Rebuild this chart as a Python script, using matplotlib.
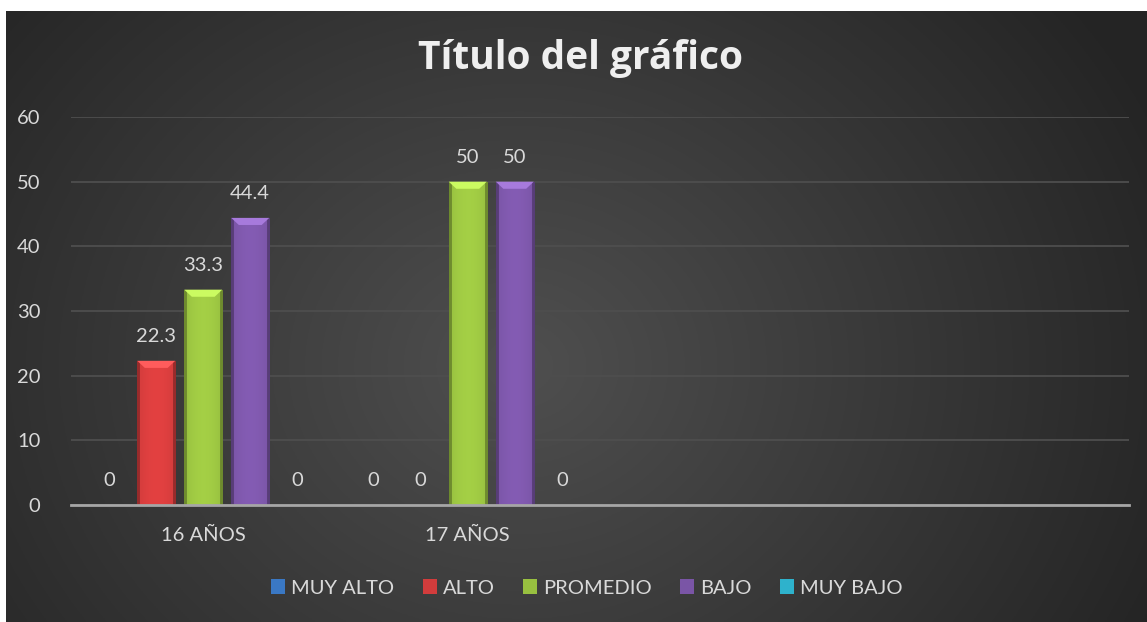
import numpy as np
import matplotlib
matplotlib.use("Agg")
import matplotlib.pyplot as plt
from matplotlib.patches import Patch, Polygon
import matplotlib.colors as mcolors

plt.rcParams['font.family'] = ['Lato', 'DejaVu Sans']

# datos
categorias = ["16 AÑOS", "17 AÑOS"]
n_slots = 4  # el eje tiene 4 categorias, dos vacias
series = ["MUY ALTO", "ALTO", "PROMEDIO", "BAJO", "MUY BAJO"]
muy_alto = [0, 0]
alto = [22.3, 0]
promedio = [33.3, 50]
bajo = [44.4, 50]
muy_bajo = [0, 0]
valores = [muy_alto, alto, promedio, bajo, muy_bajo]
colores = ["#3a78c4", "#d23c3c", "#98c040", "#7a55a6", "#2eb2cc"]
yticks = [0, 10, 20, 30, 40, 50, 60]

W, H = 1147, 622
fig = plt.figure(figsize=(W / 100, H / 100), dpi=100)
fig.patch.set_facecolor("white")

# fondo oscuro con degradado
bg = fig.add_axes([6 / W, 0, 1 - 6 / W, 1 - 11 / H])
bg.set_axis_off()
yy, xx = np.mgrid[0:1:300j, 0:1:600j]
d = np.sqrt(((xx - 0.45) * 1.6) ** 2 + ((yy - 0.42) * 1.0) ** 2)
g = np.clip(0.31 - 0.17 * d, 0.145, 0.31)
bg.imshow(np.dstack([g, g, g]), extent=[0, 1, 0, 1], aspect="auto", origin="lower")
bg.set_xlim(0, 1)
bg.set_ylim(0, 1)

ax = fig.add_axes([71 / W, 1 - 505 / H, (1129 - 71) / W, (505 - 117) / H])
ax.patch.set_alpha(0)
ax.set_xlim(-0.5, n_slots - 0.5)
ax.set_ylim(0, 60)

paso = 0.1777
ancho = 0.1437
x = np.arange(len(categorias))


def bar_bevel(rect, color):
    x0, y0 = rect.get_x(), rect.get_y()
    w, h = rect.get_width(), rect.get_height()
    if h <= 0:
        return
    base = np.array(mcolors.to_rgb(color))
    t = np.linspace(0, 1, 40)
    f = 1.0 + 0.08 * np.sin(np.pi * t) - 0.28 * (np.abs(t - 0.5) > 0.43)
    img = np.clip(base[None, :] * f[:, None], 0, 1)[None, :, :]
    im = ax.imshow(img, extent=[x0, x0 + w, y0, y0 + h], aspect="auto", zorder=3)
    im.set_clip_path(rect)
    # bisel superior
    cap = 1.1
    top = np.clip(base * 1.2 + 0.08, 0, 1)
    ax.add_patch(Polygon([[x0, y0 + h], [x0 + w, y0 + h],
                          [x0 + w * 0.8, y0 + h - cap], [x0 + w * 0.2, y0 + h - cap]],
                         closed=True, facecolor=top, edgecolor="none", zorder=4))


for i, (nombre, vals, col) in enumerate(zip(series, valores, colores)):
    pos = x + (i - 2) * paso
    bars = ax.bar(pos, vals, width=ancho, color=col, zorder=2, edgecolor="none")
    for b, v in zip(bars, vals):
        bar_bevel(b, col)
        ax.annotate(f"{v:g}", (b.get_x() + b.get_width() / 2, v),
                    xytext=(0, 17.5), textcoords="offset points",
                    ha="center", va="center", color="#d9d9d9", fontsize=14.5)

ax.set_yticks(yticks)
ax.yaxis.grid(True, color="#4e4e4e", linewidth=1.3)
ax.set_axisbelow(True)
ax.set_xticks(x)
ax.set_xticklabels(categorias)
ax.tick_params(axis="both", length=0, colors="#d9d9d9", labelsize=14.5)
ax.tick_params(axis="x", pad=16)
ax.tick_params(axis="y", pad=22)
for s in ["top", "right", "left"]:
    ax.spines[s].set_visible(False)
ax.spines["bottom"].set_color("#a6a6a6")
ax.spines["bottom"].set_linewidth(2)
ax.spines["bottom"].set_zorder(5)

fig.text(581 / W, 1 - 58 / H, "Título del gráfico", ha="center", va="center",
         fontsize=28, fontweight="bold", color="#efefef",
         family=["Open Sans", "DejaVu Sans"])

handles = [Patch(facecolor=c, edgecolor="none") for c in colores]
fig.legend(handles, series, loc="center", bbox_to_anchor=(587 / W, 1 - 588 / H),
           ncol=5, frameon=False, fontsize=14.5, labelcolor="#d9d9d9",
           handlelength=0.7, handleheight=0.7, handletextpad=0.3, columnspacing=1.4)

fig.savefig("out.png", dpi=100)
